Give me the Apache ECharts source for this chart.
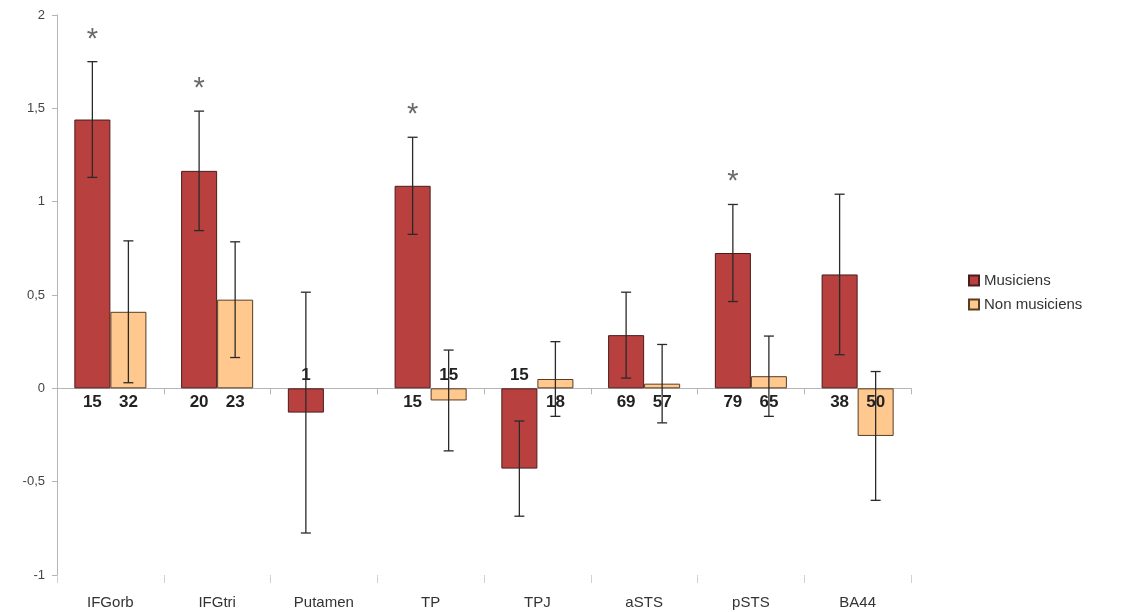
<!DOCTYPE html>
<head>
    <meta charset="utf-8">
    <title>Musiciens / Non musiciens</title>
    <script src="https://cdn.jsdelivr.net/npm/echarts@6/dist/echarts.min.js"></script>
</head>
<body style="margin:0;background:#fff">
    <div id="main" style="width:1127px;height:612px"></div>
    <script type="text/javascript">
        // regions
        var cats = ['IFGorb', 'IFGtri', 'Putamen', 'TP', 'TPJ', 'aSTS', 'pSTS', 'BA44'];
        // Musiciens
        var mus    = [1.44, 1.165, -0.13, 1.085, -0.43, 0.285, 0.725, 0.61];
        var musErr = [0.31, 0.32, 0.645, 0.26, 0.255, 0.23, 0.26, 0.43];
        var musN   = [15, 20, 1, 15, 15, 69, 79, 38];
        var musStar = [1, 1, 0, 1, 0, 0, 1, 0];
        // Non musiciens
        var non    = [0.41, 0.475, null, -0.065, 0.05, 0.025, 0.065, -0.255];
        var nonErr = [0.38, 0.31, null, 0.27, 0.2, 0.21, 0.215, 0.345];
        var nonN   = [32, 23, null, 15, 18, 57, 65, 50];

        var yTicks = [-1, -0.5, 0, 0.5, 1, 1.5, 2];

        var myChart = echarts.init(document.getElementById('main'));
        var FONT = '"Liberation Sans", Arial, sans-serif';
        var barFrac = 0.3375;   // share of a category taken by one bar

        function barData(vals, ns) {
            return vals.map(function (v, i) {
                if (v === null) return '-';
                var pos = v >= 0 ? 'bottom' : 'top';
                if (v < 0 && cats[i] === 'BA44') pos = 'insideTop';
                return { value: v, label: { show: true, position: pos, formatter: String(ns[i]) } };
            });
        }

        function errData(vals, errs, stars) {
            var out = [];
            vals.forEach(function (v, i) {
                if (v === null) return;
                out.push([i, v - errs[i], v + errs[i], stars ? stars[i] : 0]);
            });
            return out;
        }

        function errRender(side) {
            return function (params, api) {
                var band = api.size([1, 0])[0];
                var dx = side * band * barFrac / 2;
                var lo = api.coord([api.value(0), api.value(1)]);
                var hi = api.coord([api.value(0), api.value(2)]);
                var x = lo[0] + dx;
                var st = { stroke: '#2a2a2a', lineWidth: 1.3 };
                var kids = [
                    { type: 'line', shape: { x1: x, y1: hi[1], x2: x, y2: lo[1] }, style: st },
                    { type: 'line', shape: { x1: x - 5, y1: hi[1], x2: x + 5, y2: hi[1] }, style: st },
                    { type: 'line', shape: { x1: x - 5, y1: lo[1], x2: x + 5, y2: lo[1] }, style: st }
                ];
                if (api.value(3)) {
                    kids.push({ type: 'text', style: {
                        text: '*', x: x, y: hi[1] - 22, align: 'center', verticalAlign: 'middle',
                        font: '29px ' + FONT, fill: '#6a6a6a'
                    }});
                }
                return { type: 'group', children: kids };
            };
        }

        var labelStyle = { fontSize: 17, fontWeight: 'bold', color: '#222', fontFamily: FONT, distance: 5 };

        var option = {
            animation: false,
            backgroundColor: '#fff',
            grid: { left: 57, right: 216, top: 15, bottom: 37 },
            legend: {
                orient: 'vertical', left: 963, top: 268, icon: 'rect',
                itemWidth: 10, itemHeight: 10, itemGap: 9,
                data: ['Musiciens', 'Non musiciens'],
                textStyle: { fontSize: 15, color: '#333', fontFamily: FONT }
            },
            xAxis: [
                {
                    type: 'category', data: cats,
                    axisLine: { onZero: true, lineStyle: { color: '#b5b5b5' } },
                    axisTick: { show: true, length: 6, lineStyle: { color: '#b5b5b5' } },
                    axisLabel: { show: false }
                },
                {
                    type: 'category', data: cats, position: 'bottom',
                    axisLine: { show: false, onZero: false },
                    axisTick: { show: true, length: 8, lineStyle: { color: '#d0d0d0' } },
                    axisLabel: { margin: 20, fontSize: 15, color: '#333', fontFamily: FONT }
                }
            ],
            yAxis: {
                type: 'value', min: -1, max: 2, interval: 0.5,
                axisLine: { show: true, lineStyle: { color: '#b5b5b5' } },
                axisTick: { show: true, length: 5, lineStyle: { color: '#b5b5b5' } },
                splitLine: { show: false },
                axisLabel: {
                    fontSize: 13, color: '#444', fontFamily: FONT, margin: 12,
                    customValues: yTicks,
                    formatter: function (v) { return String(v).replace('.', ','); }
                }
            },
            series: [
                {
                    name: 'Musiciens', type: 'bar', xAxisIndex: 0,
                    data: barData(mus, musN),
                    barGap: 0, barCategoryGap: '32.5%',
                    itemStyle: { color: '#b8403e', borderColor: '#4a1c1c', borderWidth: 1 },
                    label: labelStyle
                },
                {
                    name: 'Non musiciens', type: 'bar', xAxisIndex: 0,
                    data: barData(non, nonN),
                    itemStyle: { color: '#ffc88f', borderColor: '#5a3c22', borderWidth: 1 },
                    label: labelStyle
                },
                {
                    type: 'custom', xAxisIndex: 0, z: 5,
                    data: errData(mus, musErr, musStar),
                    encode: { x: 0, y: [1, 2] },
                    renderItem: errRender(-1)
                },
                {
                    type: 'custom', xAxisIndex: 0, z: 5,
                    data: errData(non, nonErr, null),
                    encode: { x: 0, y: [1, 2] },
                    renderItem: errRender(1)
                }
            ]
        };
        myChart.setOption(option);
    </script>
</body>
